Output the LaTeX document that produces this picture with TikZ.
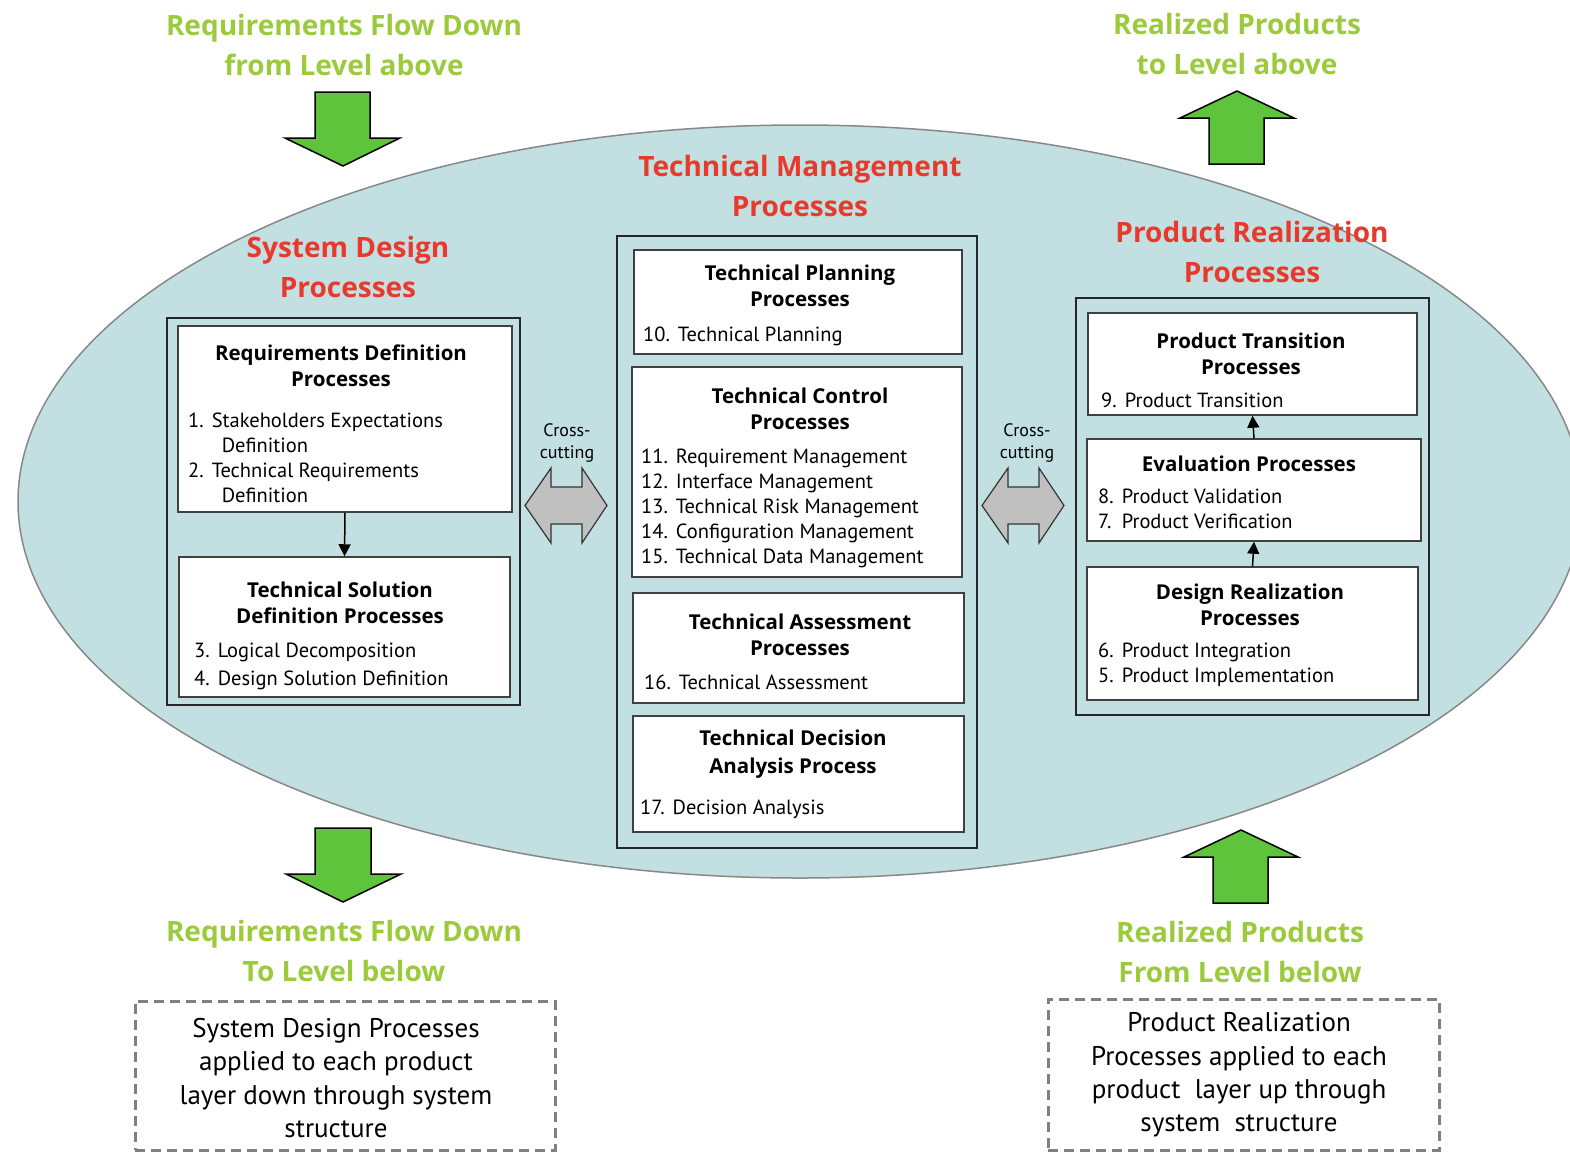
\documentclass[tikz,border=0pt]{standalone}
\usepackage{fontspec}
\setmainfont{PT Sans}
\newfontfamily\headfont{Open Sans}
\usetikzlibrary{arrows.meta,fit}

\definecolor{ovalblue}{RGB}{194,224,226}
\definecolor{ovalline}{RGB}{136,136,136}
\definecolor{flowgreen}{RGB}{93,196,60}
\definecolor{headgreen}{RGB}{155,203,60}
\definecolor{headred}{RGB}{232,58,44}
\definecolor{crossgray}{RGB}{192,192,192}
\definecolor{dashgray}{RGB}{128,128,128}

\tikzset{
  outerbox/.style={draw=black!85, line width=2pt, inner sep=0pt},
  procbox/.style={draw=black!75, line width=1.5pt, fill=white, inner sep=0pt},
  boxtitle/.style={font=\headfont\fontsize{20.5}{26}\selectfont\bfseries, align=center, inner sep=0pt},
  boxitems/.style={font=\fontsize{20.5}{25}\selectfont, anchor=west, inner sep=0pt},
  greenhead/.style={text=headgreen, font=\headfont\fontsize{28}{40}\selectfont\bfseries, align=center, inner sep=0pt},
  redhead/.style={text=headred, font=\headfont\fontsize{28}{40}\selectfont\bfseries, align=center, inner sep=0pt},
  bigarrow/.style={fill=flowgreen, draw=black, line width=1.5pt, line join=miter},
  crossarrow/.style={fill=crossgray, draw=black!80, line width=1.2pt},
  crosstext/.style={align=center, font=\fontsize{18}{22}\selectfont, inner sep=0pt},
  dashbox/.style={draw=dashgray, line width=3pt, dash pattern=on 10pt off 6pt, inner sep=0pt},
  dashtext/.style={font=\fontsize{27}{33.4}\selectfont, align=center, inner sep=0pt},
  small arrow/.style={line width=1.5pt, -{Triangle[length=12pt,width=12pt]}}
}

\begin{document}
\begin{tikzpicture}[x=1pt, y=-1pt]
\useasboundingbox (0,0) rectangle (1570,1152);
%% The big oval holding the three groups of processes
  \draw[fill=ovalblue, draw=ovalline, line width=1.5pt] (800,501.5) ellipse (782 and 376.5);

%% Green block arrows, top and bottom
  \draw[bigarrow] (315,92) -- (370,92) -- (370,138) -- (400,138) -- (343,166) -- (285,138) -- (315,138) -- cycle;
  \draw[bigarrow] (315,828) -- (371,828) -- (371,874) -- (401,874) -- (343,902) -- (286,874) -- (315,874) -- cycle;
  \draw[bigarrow] (1209,164) -- (1264,164) -- (1264,118) -- (1294,118) -- (1237,91) -- (1180,118) -- (1209,118) -- cycle;
  \draw[bigarrow] (1213,903) -- (1268,903) -- (1268,857) -- (1298,857) -- (1241,830) -- (1184,857) -- (1213,857) -- cycle;

  \node[greenhead] (fromabove) at (344,44.5) {Requirements Flow Down\\from Level above};
  \node[greenhead] (toabove) at (1237,43.5) {Realized Products\\to Level above};
  \node[greenhead] (tobelow) at (344,950.5) {Requirements Flow Down\\To Level below};
  \node[greenhead] (frombelow) at (1240,951.5) {Realized Products\\From Level below};

%% Red group headings
  \node[redhead] (mgmthead) at (800,185.5) {Technical Management\\Processes};
  \node[redhead] (designhead) at (348,267) {System Design\\Processes};
  \node[redhead] (realhead) at (1252,251.5) {Product Realization\\Processes};

%% Outer frames of the three groups
  \node[outerbox, fit={(167,318) (520,705)}] (sysdesign) {};
  \node[outerbox, fit={(617,236) (977,848)}] (techmgmt) {};
  \node[outerbox, fit={(1076,298) (1429,715)}] (prodreal) {};

%% System design boxes
  \node[procbox, fit={(178,326) (512,512)}] (reqdef) {};
  \node[boxtitle] (reqdeftitle) at (341,366) {Requirements Definition\\Processes};
  \node[boxitems] (reqdefitems) at (188,460) {\begin{tabular}{@{}l@{\hspace{8pt}}l@{}}
    1. & Stakeholders Expectations\\
       & \hspace{10pt}Definition\\
    2. & Technical Requirements\\
       & \hspace{10pt}Definition
  \end{tabular}};
  \node[procbox, fit={(179,557) (510,697)}] (techsol) {};
  \node[boxtitle] (techsoltitle) at (340,602.5) {Technical Solution\\Definition Processes};
  \node[boxitems, font=\fontsize{20.5}{28}\selectfont] (techsolitems) at (194,666) {\begin{tabular}{@{}l@{\hspace{8pt}}l@{}}
    3. & Logical Decomposition\\
    4. & Design Solution Definition
  \end{tabular}};
  \draw[small arrow] (reqdef.south) -- (techsol.north);

%% Technical management boxes
  \node[procbox, fit={(634,250) (962,354)}] (techplan) {};
  \node[boxtitle] (techplantitle) at (800,285.5) {Technical Planning\\Processes};
  \node[boxitems] (techplanitems) at (643,336) {\begin{tabular}{@{}l@{\hspace{8pt}}l@{}}
    10. & Technical Planning
  \end{tabular}};
  \node[procbox, fit={(632,367) (962,577)}] (techctrl) {};
  \node[boxtitle] (techctrltitle) at (800,408.5) {Technical Control\\Processes};
  \node[boxitems] (techctrlitems) at (641,508) {\begin{tabular}{@{}l@{\hspace{8pt}}l@{}}
    11. & Requirement Management\\
    12. & Interface Management\\
    13. & Technical Risk Management\\
    14. & Configuration Management\\
    15. & Technical Data Management
  \end{tabular}};
  \node[procbox, fit={(633,593) (964,703)}] (techassess) {};
  \node[boxtitle] (techassesstitle) at (800,635) {Technical Assessment\\Processes};
  \node[boxitems] (techassessitems) at (644,684) {\begin{tabular}{@{}l@{\hspace{8pt}}l@{}}
    16. & Technical Assessment
  \end{tabular}};
  \node[procbox, fit={(633,716) (964,832)}] (techdec) {};
  \node[boxtitle, font=\headfont\fontsize{20.5}{28}\selectfont\bfseries] (techdectitle) at (793,754) {Technical Decision\\Analysis Process};
  \node[boxitems] (techdecitems) at (640,809) {\begin{tabular}{@{}l@{\hspace{8pt}}l@{}}
    17. & Decision Analysis
  \end{tabular}};

%% Product realization boxes
  \node[procbox, fit={(1088,313) (1417,415)}] (prodtrans) {};
  \node[boxtitle] (prodtranstitle) at (1251,353.5) {Product Transition\\Processes};
  \node[boxitems] (prodtransitems) at (1101,402) {\begin{tabular}{@{}l@{\hspace{8pt}}l@{}}
    9. & Product Transition
  \end{tabular}};
  \node[procbox, fit={(1087,439) (1421,541)}] (evaluation) {};
  \node[boxtitle] (evaluationtitle) at (1249,464) {Evaluation Processes};
  \node[boxitems] (evaluationitems) at (1098,510.5) {\begin{tabular}{@{}l@{\hspace{8pt}}l@{}}
    8. & Product Validation\\
    7. & Product Verification
  \end{tabular}};
  \node[procbox, fit={(1087,567) (1418,700)}] (designreal) {};
  \node[boxtitle] (designrealtitle) at (1250,604.5) {Design Realization\\Processes};
  \node[boxitems] (designrealitems) at (1098,665) {\begin{tabular}{@{}l@{\hspace{8pt}}l@{}}
    6. & Product Integration\\
    5. & Product Implementation
  \end{tabular}};
  \draw[small arrow] (designreal.north) -- (evaluation.south);
  \draw[small arrow] (evaluation.north) -- (prodtrans.south);

%% Cross-cutting double arrows
  \draw[crossarrow] (525,505.5) -- (551,468) -- (551,487) -- (582,487) -- (582,468) -- (607,505.5) -- (582,543) -- (582,524) -- (551,524) -- (551,543) -- cycle;
  \draw[crossarrow] (982,505.5) -- (1008,468) -- (1008,487) -- (1039,487) -- (1039,468) -- (1064,505.5) -- (1039,543) -- (1039,524) -- (1008,524) -- (1008,543) -- cycle;
  \node[crosstext] (crossleft) at (567,443) {Cross-\\cutting};
  \node[crosstext] (crossright) at (1027,443) {Cross-\\cutting};

%% Dashed notes at the bottom
  \node[dashbox, fit={(135,1001) (555,1150)}] (designnote) {};
  \node[dashtext] (designnotetext) at (336,1078) {System Design Processes\\applied to each product\\layer down through system\\structure};
  \node[dashbox, fit={(1048,999) (1439,1150)}] (realnote) {};
  \node[dashtext] (realnotetext) at (1239,1075) {Product Realization\\Processes applied to each\\product~ layer up through\\system~ structure};
\end{tikzpicture}
\end{document}
